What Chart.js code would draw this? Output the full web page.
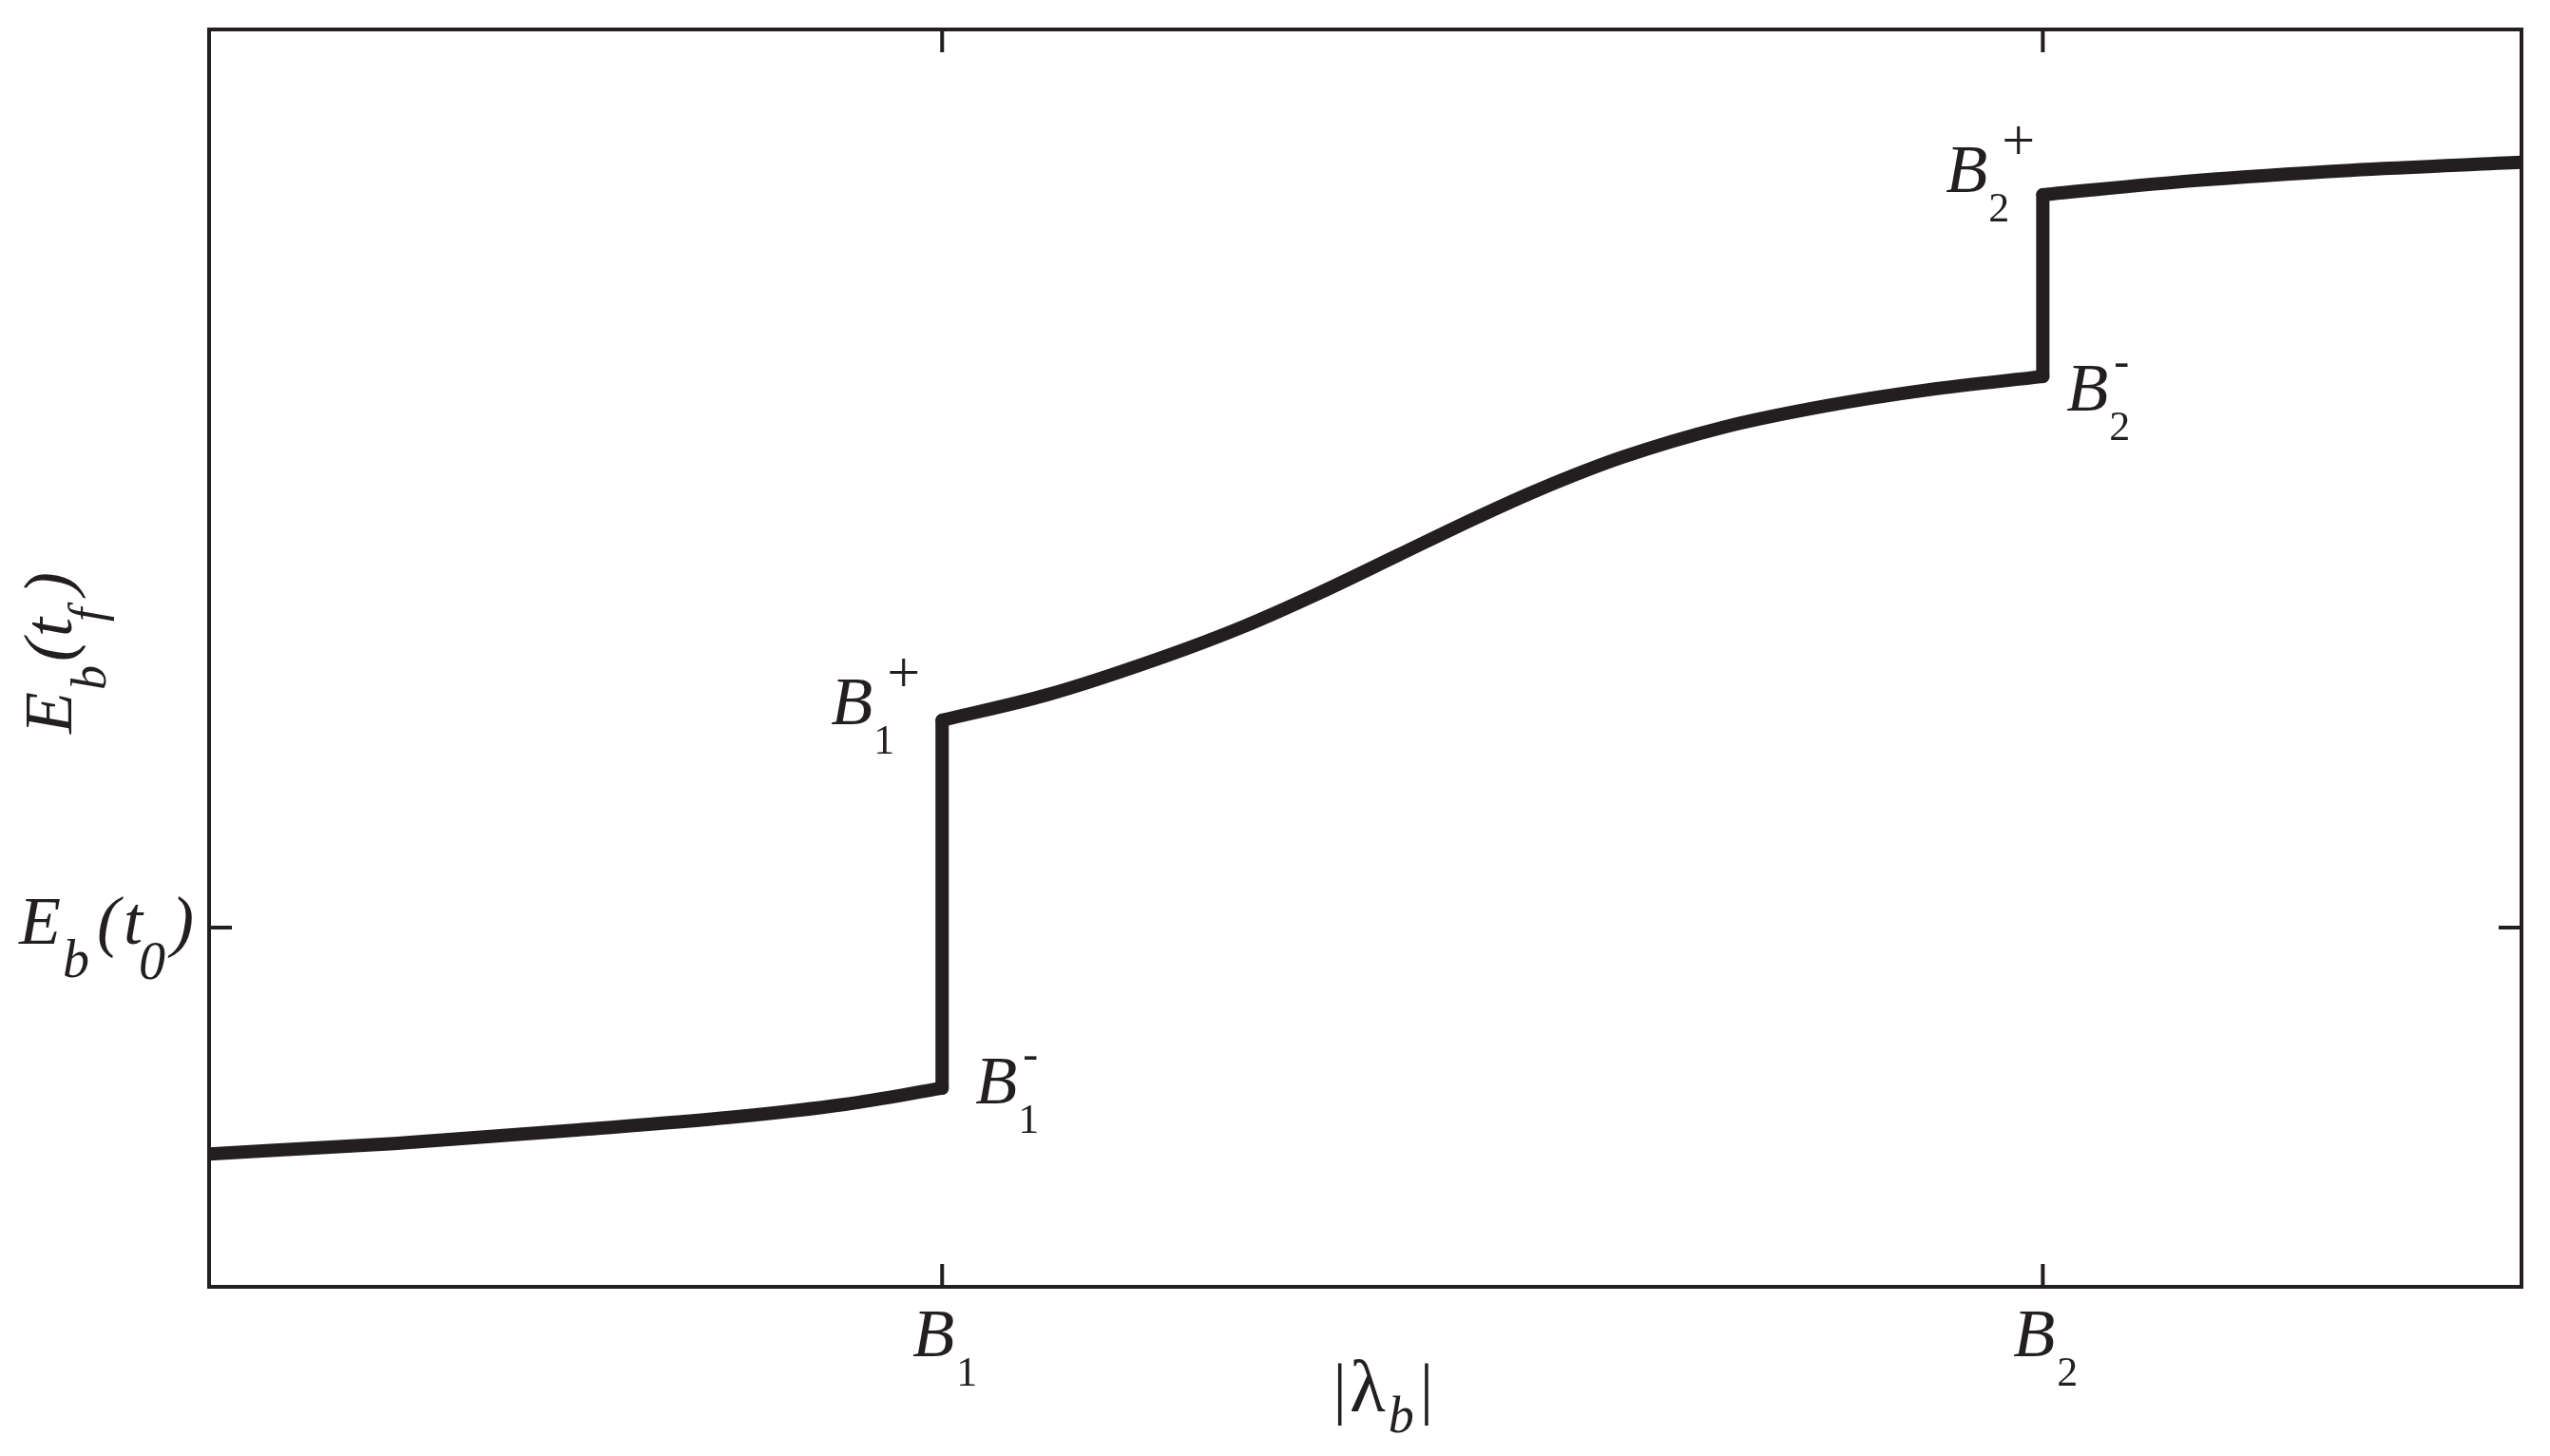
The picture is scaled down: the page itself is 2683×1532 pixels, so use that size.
<!DOCTYPE html>
<html>
<head>
<meta charset="utf-8">
<script src="https://cdn.jsdelivr.net/npm/chart.js@4"></script>
<style>
  html, body { margin: 0; padding: 0; background: #fff; }
  #wrap { width: 2683px; height: 1532px; }
</style>
</head>
<body>
<div id="wrap"><canvas id="energychart" width="2683" height="1532"></canvas></div>
<script>
// thresholds on the |lambda_b| axis (axis runs 0..100)
const B1 = 31.7;
const B2 = 79.3;
// reference energy level E_b(t0) (axis runs 0..3.5)
const E0 = 1;

// curve below B1
const lambdaLow = [0, 8, 16, 22.6, 27.5, B1];
const energyLow = [0.370, 0.399, 0.437, 0.472, 0.508, 0.553];
// curve between B1 and B2
const lambdaMid = [B1, 36.25, 41.3, 44.7, 48.0, 51.4, 54.7, 57.5, 61.1, 65.5, 69.9, 74.35, B2];
const energyMid = [1.577, 1.648, 1.754, 1.837, 1.931, 2.036, 2.138, 2.219, 2.309, 2.393, 2.452, 2.497, 2.534];
// curve above B2
const lambdaHigh = [B2, 85.8, 92.6, 100];
const energyHigh = [3.040, 3.079, 3.108, 3.130];

// tick labels
const xTicks = [B1, B2];
const xTickSubs = ['1', '2'];
const yTicks = [E0];

//Style
const ink = '#231f20';
const serif = '"Liberation Serif", "DejaVu Serif", serif';
const curveWidth = 14;
const axisWidth = 4;
const tickLen = 24;

const ctx = document.getElementById('energychart');

const zip = (xs, ys) => xs.map((v, i) => ({x: v, y: ys[i]}));

const curveStyle = {
    borderColor: ink,
    borderWidth: curveWidth,
    borderCapStyle: 'round',
    borderJoinStyle: 'round',
    pointRadius: 0,
    fill: false,
    cubicInterpolationMode: 'monotone',
    clip: 0,
};

const put = function (c, s, x, y, size, italic) {
    c.font = (italic ? 'italic ' : '') + size + 'px ' + serif;
    c.fillText(s, x, y);
    return c.measureText(s).width;
};

// B with stacked sub/superscript next to a jump point
const pointLabels = [
    {at: () => [B1, energyMid[0]], dx: -117, dy: 4, sub: '1', sup: '+'},
    {at: () => [B1, energyLow[energyLow.length - 1]], dx: 35, dy: 16, sub: '1', sup: '-'},
    {at: () => [B2, energyHigh[0]], dx: -102, dy: -3, sub: '2', sup: '+'},
    {at: () => [B2, energyMid[energyMid.length - 1]], dx: 25, dy: 36, sub: '2', sup: '-'},
];

const annotate = {
    id: 'annotate',
    afterDraw(chart) {
        const {ctx, chartArea: {left, top, right, bottom}, scales: {x, y}} = chart;
        ctx.save();
        ctx.strokeStyle = ink;
        ctx.fillStyle = ink;
        ctx.lineWidth = axisWidth;
        ctx.strokeRect(left, top, right - left, bottom - top);

        // inward ticks on all four sides
        ctx.beginPath();
        xTicks.forEach(v => {
            const p = x.getPixelForValue(v);
            ctx.moveTo(p, bottom); ctx.lineTo(p, bottom - tickLen);
            ctx.moveTo(p, top); ctx.lineTo(p, top + tickLen);
        });
        yTicks.forEach(v => {
            const p = y.getPixelForValue(v);
            ctx.moveTo(left, p); ctx.lineTo(left + tickLen, p);
            ctx.moveTo(right, p); ctx.lineTo(right - tickLen, p);
        });
        ctx.stroke();

        ctx.textBaseline = 'alphabetic';
        ctx.textAlign = 'left';

        // x tick labels B_1, B_2
        xTicks.forEach((v, i) => {
            const p = x.getPixelForValue(v);
            put(ctx, 'B', p - 31, bottom + 73, 72, true);
            put(ctx, xTickSubs[i], p + 15, bottom + 104, 44, false);
        });

        // y tick label E_b(t_0)
        yTicks.forEach(v => {
            const p = y.getPixelForValue(v) + 17;
            put(ctx, 'E', 20, p, 72, true);
            put(ctx, 'b', 66, p + 35, 56, true);
            put(ctx, '(', 102, p, 72, true);
            put(ctx, 't', 130, p, 72, true);
            put(ctx, '0', 146, p + 37, 56, true);
            put(ctx, ')', 180, p, 72, true);
        });

        // x title |lambda_b|
        let cx = (left + right) / 2 - 34;
        const ty = bottom + 131;
        cx += put(ctx, '|', cx, ty, 72, false) + 3;
        cx += put(ctx, '\u03bb', cx, ty, 78, false) + 3;
        cx += put(ctx, 'b', cx, ty + 22, 54, true) + 6;
        put(ctx, '|', cx, ty, 72, false);

        // y title E_b(t_f), rotated
        ctx.save();
        ctx.translate(75, 772);
        ctx.rotate(-Math.PI / 2);
        put(ctx, 'E', 0, 0, 72, true);
        put(ctx, 'b', 46, 36, 52, true);
        put(ctx, '(', 76, 0, 72, true);
        put(ctx, 't', 102, 0, 72, true);
        put(ctx, 'f', 118, 34, 52, true);
        put(ctx, ')', 146, 0, 72, true);
        ctx.restore();

        // labels at the jumps
        pointLabels.forEach(l => {
            const [vx, vy] = l.at();
            const px = x.getPixelForValue(vx) + l.dx;
            const py = y.getPixelForValue(vy) + l.dy;
            put(ctx, 'B', px, py, 72, true);
            put(ctx, l.sub, px + 45, py + 31, 44, false);
            if (l.sup === '+') {
                put(ctx, '+', px + 55, py - 34, 62, true);
            } else {
                put(ctx, '-', px + 50, py - 36, 48, true);
            }
        });
        ctx.restore();
    }
};

const config = {
    type: 'line',
    data: {
        datasets: [
            {label: 'low', data: zip(lambdaLow, energyLow), ...curveStyle},
            {label: 'jump1', data: [{x: B1, y: energyLow[energyLow.length - 1]}, {x: B1, y: energyMid[0]}], ...curveStyle},
            {label: 'mid', data: zip(lambdaMid, energyMid), ...curveStyle},
            {label: 'jump2', data: [{x: B2, y: energyMid[energyMid.length - 1]}, {x: B2, y: energyHigh[0]}], ...curveStyle},
            {label: 'high', data: zip(lambdaHigh, energyHigh), ...curveStyle},
        ],
    },
    plugins: [annotate],
    options: {
        responsive: false,
        animation: false,
        devicePixelRatio: 1,
        layout: {padding: {left: 0, top: 31, right: 30, bottom: 0}},
        plugins: {
            legend: {display: false},
            title: {display: false},
            tooltip: {enabled: false},
        },
        scales: {
            x: {
                type: 'linear',
                min: 0,
                max: 100,
                grid: {display: false},
                border: {display: false},
                ticks: {display: false},
                afterBuildTicks: s => { s.ticks = xTicks.map(v => ({value: v})); },
                afterFit: s => { s.height = 178; },
            },
            y: {
                type: 'linear',
                min: 0,
                max: 3.5,
                grid: {display: false},
                border: {display: false},
                ticks: {display: false},
                afterBuildTicks: s => { s.ticks = yTicks.map(v => ({value: v})); },
                afterFit: s => { s.width = 220; },
            },
        },
    },
};

new Chart(ctx, config);
</script>
</body>
</html>
